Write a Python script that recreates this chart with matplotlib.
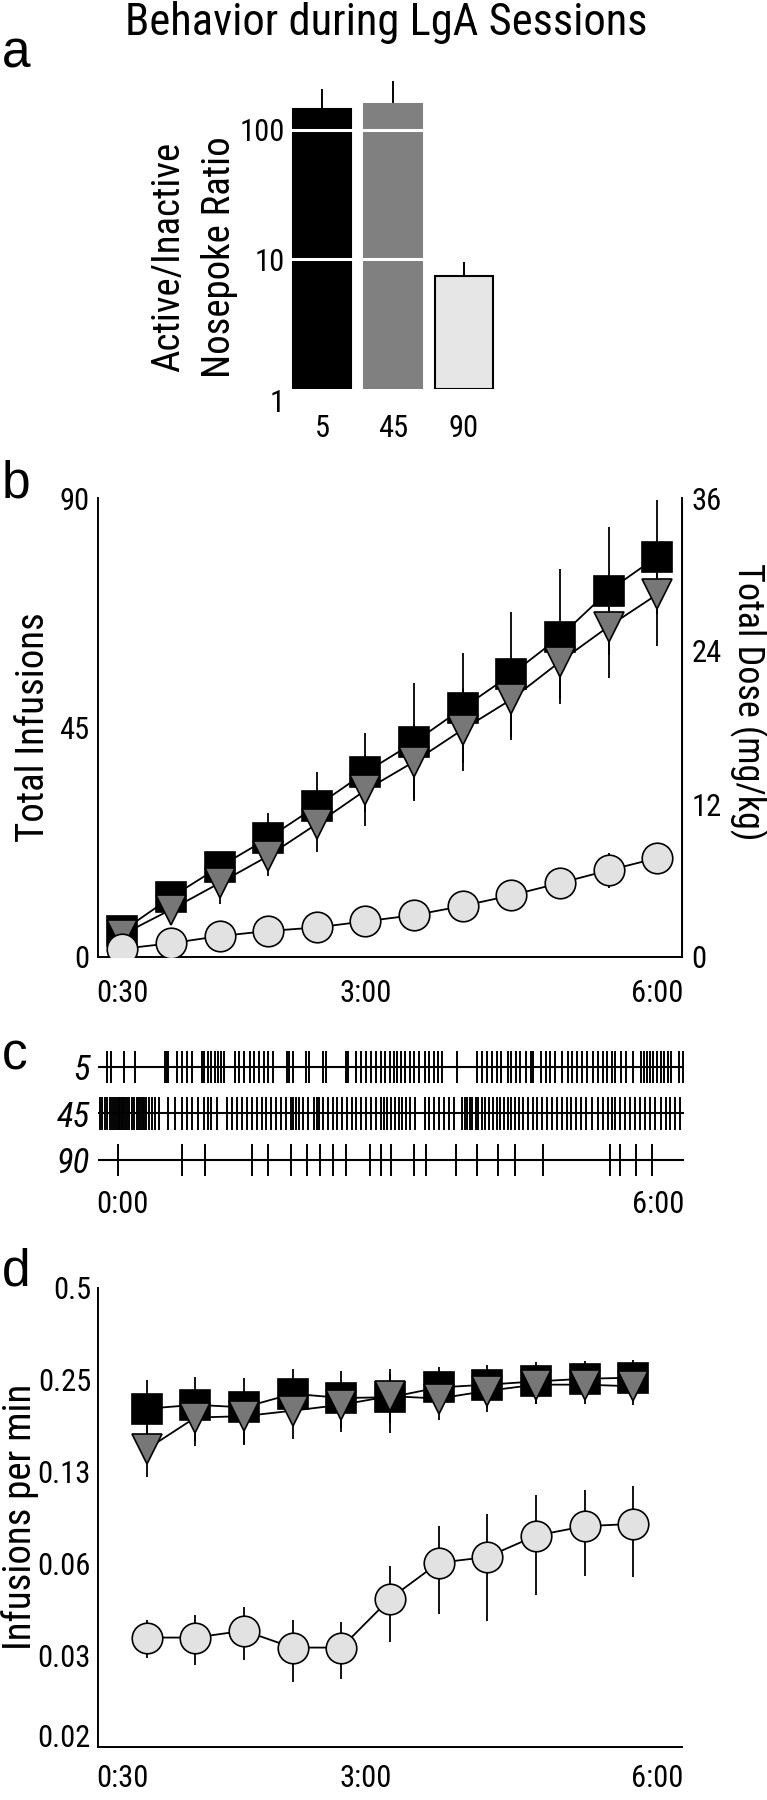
import matplotlib
matplotlib.use("Agg")
import matplotlib.pyplot as plt
from matplotlib import font_manager
from matplotlib.ticker import NullLocator
import numpy as np

W, H = 767, 1800

# ---- data -------------------------------------------------------------
bar_doses = ["5", "45", "90"]
bar_ratio = [146, 158, 7.4]
bar_sem = [60, 82, 2.1]

time_b = [30, 60, 90, 120, 150, 180, 210, 240, 270, 300, 330, 360]
tot_5 = [5.1, 11.7, 17.7, 23.3, 29.6, 36.2, 42.1, 48.8, 55.4, 62.8, 71.8, 78.5]
sem_5 = [1.0, 1.5, 1.7, 4.9, 6.6, 7.7, 11.6, 10.8, 12.2, 13.2, 12.6, 11.2]
tot_45 = [4.4, 9.3, 14.5, 19.8, 26.1, 32.7, 38.3, 44.6, 50.5, 57.9, 64.8, 71.1]
sem_45 = [1.0, 2.0, 4.2, 3.9, 5.6, 7.0, 7.3, 8.1, 8.0, 7.4, 10.1, 10.1]
tot_90 = [1.6, 2.7, 4.1, 5.1, 5.8, 7.0, 8.2, 10.0, 12.1, 14.5, 17.0, 19.4]
sem_90 = [0.3, 0.4, 0.5, 0.6, 0.7, 0.8, 0.9, 1.0, 1.3, 1.8, 3.4, 2.8]

# infusion times (min) of one example rat per dose
events_5 = [-9.9, -7.2, 1.6, 8.5, 28.9, 30.2, 31.2, 36.8, 40.1, 43.4, 46.7, 53.6, 55.2,
            57.5, 59.8, 62.5, 64.4, 66.4, 68.4, 75.6, 78.9, 82.2, 86.1, 88.8, 92.1, 95.4,
            98.0, 101.3, 110.5, 112.4, 115.1, 123.6, 125.6, 134.8, 136.8, 150.6, 151.9,
            157.2, 160.5, 163.7, 167.0, 170.3, 173.6, 176.9, 180.2, 182.8, 184.8, 187.4,
            190.0, 193.3, 196.0, 199.3, 203.2, 206.5, 209.8, 212.4, 215.0, 225.2, 238.4,
            241.7, 245.0, 248.2, 251.5, 254.8, 259.1, 261.4, 264.7, 267.0, 271.3, 274.5,
            276.2, 281.1, 284.4, 287.7, 291.0, 295.3, 299.2, 302.5, 305.8, 309.1, 312.4,
            316.3, 319.6, 322.9, 325.5, 328.8, 331.4, 335.4, 338.7, 343.3, 348.5, 350.5,
            352.5, 354.4, 356.7, 359.0, 361.7, 364.3, 366.6, 368.9, 374.2, 376.5]
events_45 = [-14.8, -13.2, -11.5, -9.9, -8.2, -6.6, -5.3, -3.9, -3.0, -2.0, -1.0, 0.0, 1.0,
             2.0, 3.3, 4.9, 6.6, 8.2, 9.9, 11.2, 12.5, 13.8, 15.1, 16.4, 18.1, 20.4, 22.4,
             24.7, 31.2, 35.5, 40.1, 43.4, 46.7, 51.0, 55.2, 57.5, 59.8, 64.1, 70.7, 74.0,
             77.3, 80.6, 83.8, 87.1, 90.4, 93.7, 97.0, 100.3, 103.6, 106.9, 110.1, 113.4,
             115.1, 116.7, 119.0, 121.7, 124.9, 128.9, 130.9, 132.2, 134.8, 138.1, 141.4,
             144.7, 148.0, 151.2, 154.5, 157.2, 160.5, 163.7, 167.0, 170.3, 173.6, 175.9,
             178.2, 180.8, 183.5, 185.8, 188.1, 190.7, 193.3, 196.6, 203.2, 206.5, 209.8,
             213.1, 216.4, 219.6, 222.9, 228.5, 230.2, 231.8, 233.4, 235.1, 237.4, 239.4,
             241.7, 244.0, 246.6, 249.2, 251.5, 253.8, 256.5, 259.1, 261.4, 263.7, 266.3,
             269.6, 272.9, 276.2, 278.8, 282.1, 285.4, 288.7, 292.0, 295.3, 298.6, 301.8,
             305.1, 308.4, 311.7, 315.6, 319.6, 322.9, 326.2, 328.8, 331.4, 334.7, 338.0,
             341.3, 344.6, 347.9, 351.2, 354.4, 357.7, 361.7, 365.0, 368.3, 371.6, 374.8]
events_90 = [-2.6, 40.1, 55.9, 87.1, 98.0, 113.4, 124.3, 133.2, 141.4, 150.3, 166.7, 173.6,
             180.8, 196.3, 203.9, 224.6, 238.4, 252.5, 263.7, 282.8, 327.8, 334.7, 345.3,
             355.8]
row_labels = ["90", "45", "5"]

time_d = [45, 75, 105, 135, 165, 195, 225, 255, 285, 315, 345]
rate_5 = [0.201, 0.207, 0.203, 0.225, 0.218, 0.219, 0.236, 0.241, 0.247, 0.252, 0.254]
rsem_5 = [0.049, 0.049, 0.050, 0.046, 0.049, 0.052, 0.039, 0.039, 0.039, 0.036, 0.036]
rate_45 = [0.148, 0.188, 0.190, 0.198, 0.207, 0.221, 0.217, 0.230, 0.241, 0.241, 0.238]
rsem_45 = [0.028, 0.036, 0.036, 0.038, 0.033, 0.041, 0.033, 0.034, 0.032, 0.032, 0.031]
rate_90 = [0.0357, 0.0357, 0.0376, 0.0331, 0.0331, 0.0479, 0.0628, 0.0656, 0.0771, 0.0828, 0.0842]
rsem_90 = [0.005, 0.0066, 0.0075, 0.0076, 0.007, 0.0135, 0.020, 0.025, 0.028, 0.026, 0.028]
rate_ticks = [0.015625, 0.03125, 0.0625, 0.125, 0.25, 0.5]
rate_ticklabels = ["0.02", "0.03", "0.06", "0.13", "0.25", "0.5"]


def pick_font(cands):
    names = {f.name for f in font_manager.fontManager.ttflist}
    for c in cands:
        if c in names:
            return c
    return "DejaVu Sans"


NARROW = pick_font(["Liberation Sans Narrow", "Roboto Condensed", "Arial Narrow", "Liberation Sans"])
REGULAR = pick_font(["Liberation Sans", "Arial", "DejaVu Sans"])
plt.rcParams["font.family"] = [NARROW, "DejaVu Sans"]

TICK = 22
LAB = 28
LETTER = 37

C5, C45, C90 = "black", "#777777", "#e2e2e2"


def rect(x0, y0, x1, y1):
    # pixel box (top-left origin) -> figure fraction
    return [x0 / W, 1 - y1 / H, (x1 - x0) / W, (y1 - y0) / H]


def fxy(x, y):
    return x / W, 1 - y / H


fig = plt.figure(figsize=(W / 100, H / 100), dpi=100)

# panel letters and title
for letter, (lx, ly) in zip("abcd", [(2, 67), (2, 497), (2, 1070), (2, 1286)]):
    fig.text(*fxy(lx, ly), letter, fontsize=LETTER, family=REGULAR, va="baseline", ha="left")
fig.text(*fxy(386, 22), "Behavior during LgA Sessions", fontsize=32, ha="center", va="center")

# ---- a: nosepoke ratio bars ------------------------------------------------
ax_a = fig.add_axes(rect(290, 78, 500, 389))
xa = np.arange(len(bar_doses))
ax_a.bar(xa, np.array(bar_ratio) - 1, bottom=1, width=0.82,
         color=[C5, "#808080", "#e6e6e6"], edgecolor=["black", "#808080", "black"],
         linewidth=1.5, zorder=2)
ax_a.errorbar(xa, bar_ratio, yerr=[np.zeros(len(bar_sem)), bar_sem], fmt="none",
              ecolor="black", elinewidth=1.4, capsize=0, zorder=1)
for yv in (10, 100):
    ax_a.axhline(yv, color="white", lw=2.2, zorder=3)
ax_a.set_yscale("log")
ax_a.set_ylim(1, 10 ** 2.4)
ax_a.set_xlim(-0.45, 2.507)
ax_a.yaxis.set_minor_locator(NullLocator())
ax_a.set_yticks([1, 10, 100], ["1", "10", "100"])
ax_a.set_xticks(xa, bar_doses)
ax_a.tick_params(axis="y", length=0, pad=4, labelsize=TICK)
ax_a.tick_params(axis="x", length=0, pad=18, labelsize=TICK)
ax_a.get_yticklabels()[0].set_verticalalignment("top")
for s in ax_a.spines.values():
    s.set_visible(False)
fig.text(*fxy(169, 257), "Active/Inactive", rotation=90, fontsize=LAB, ha="center", va="center")
fig.text(*fxy(220, 257), "Nosepoke Ratio", rotation=90, fontsize=LAB, ha="center", va="center")

# ---- b: cumulative infusions -------------------------------------------------
mk = dict(ms=21, mew=1.2, mec="black", lw=1.3, elinewidth=1.3, capsize=0, ecolor="black", color="black")
ax_b = fig.add_axes(rect(98, 498, 681.5, 957))
ax_b.errorbar(time_b, tot_5, yerr=sem_5, fmt="-s", mfc=C5, zorder=2, **mk)
ax_b.errorbar(time_b, tot_45, yerr=sem_45, fmt="-v", mfc=C45, zorder=3, **mk)
ax_b.errorbar(time_b, tot_90, yerr=sem_90, fmt="-o", mfc=C90, zorder=4, **dict(mk, ms=22))
ax_b.set_xlim(15, 375)
ax_b.set_ylim(0, 90)
ax_b.set_yticks([0, 45, 90])
ax_b.set_xticks([30, 180, 360], ["0:30", "3:00", "6:00"])
ax_b.tick_params(axis="y", length=0, pad=6, labelsize=TICK)
ax_b.tick_params(axis="x", length=0, pad=16, labelsize=TICK)
ax_b.spines["top"].set_visible(False)
for s in ("left", "bottom"):
    ax_b.spines[s].set_linewidth(1.4)
ax_b2 = ax_b.twinx()
ax_b2.set_ylim(0, 36)
ax_b2.set_yticks([0, 12, 24, 36])
ax_b2.tick_params(axis="y", length=0, pad=7, labelsize=TICK)
for s in ("top", "left", "bottom"):
    ax_b2.spines[s].set_visible(False)
ax_b2.spines["right"].set_linewidth(1.4)
fig.text(*fxy(34, 727), "Total Infusions", rotation=90, fontsize=LAB, ha="center", va="center")
fig.text(*fxy(748, 702), "Total Dose (mg/kg)", rotation=270, fontsize=LAB - 2, ha="center", va="center")

# ---- c: event rasters ---------------------------------------------------------
ax_c = fig.add_axes(rect(98, 1045, 684, 1182))
ax_c.eventplot([events_90, events_45, events_5], lineoffsets=[0, 1, 2], linelengths=0.69,
               linewidths=1.4, colors="black")
for k in range(3):
    ax_c.axhline(k, color="black", lw=1.5)
ax_c.set_xlim(-16.1, 377.4)
ax_c.set_ylim(-0.47, 2.47)
ax_c.set_yticks([0, 1, 2], row_labels)
for t in ax_c.get_yticklabels():
    t.set_fontstyle("italic")
ax_c.set_xticks([0, 360], ["0:00", "6:00"])
ax_c.tick_params(axis="y", length=0, pad=6, labelsize=25)
ax_c.tick_params(axis="x", length=0, pad=6, labelsize=TICK)
for s in ax_c.spines.values():
    s.set_visible(False)

# ---- d: infusion rate ---------------------------------------------------------
ax_d = fig.add_axes(rect(98, 1288, 682, 1747))
ax_d.errorbar(time_d, rate_5, yerr=rsem_5, fmt="-s", mfc=C5, zorder=2, **mk)
ax_d.errorbar(time_d, rate_45, yerr=rsem_45, fmt="-v", mfc=C45, zorder=3, **mk)
ax_d.errorbar(time_d, rate_90, yerr=rsem_90, fmt="-o", mfc=C90, zorder=4, **dict(mk, ms=22))
ax_d.set_yscale("log", base=2)
ax_d.set_ylim(rate_ticks[0], rate_ticks[-1])
ax_d.yaxis.set_minor_locator(NullLocator())
ax_d.set_yticks(rate_ticks, rate_ticklabels)
ax_d.get_yticklabels()[0].set_verticalalignment("baseline")
ax_d.set_xlim(15, 375)
ax_d.set_xticks([30, 180, 360], ["0:30", "3:00", "6:00"])
ax_d.tick_params(axis="y", length=0, pad=5, labelsize=TICK)
ax_d.tick_params(axis="x", length=0, pad=12.5, labelsize=TICK)
for s in ("top", "right"):
    ax_d.spines[s].set_visible(False)
for s in ("left", "bottom"):
    ax_d.spines[s].set_linewidth(1.4)
fig.text(*fxy(20, 1517), "Infusions per min", rotation=90, fontsize=LAB, ha="center", va="center")

fig.savefig("out.png", dpi=100)
